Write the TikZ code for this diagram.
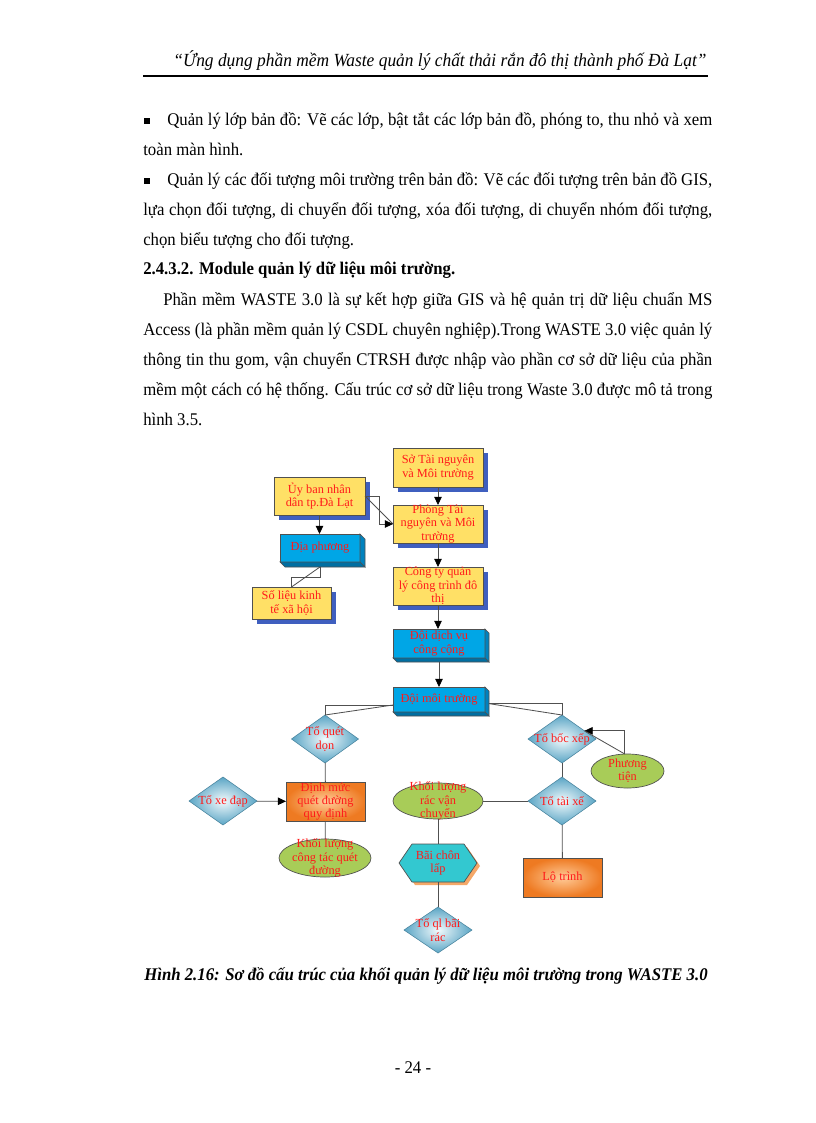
\documentclass[tikz,border=0pt]{standalone}
\usepackage{fontspec}
\setmainfont{Liberation Serif}
\newfontfamily\bodyfont[FakeStretch=0.94]{Liberation Serif}
\usetikzlibrary{shapes.geometric,shadows,arrows.meta,calc}
\definecolor{boxyellow}{HTML}{FFE066}
\definecolor{shadowblue}{HTML}{3F5FBF}
\definecolor{cubefront}{HTML}{00A6E6}
\definecolor{cubeside}{HTML}{0082BE}
\definecolor{lineg}{HTML}{505050}
\definecolor{dred}{HTML}{FF1A1A}
\definecolor{dmouter}{HTML}{5AA5C5}
\definecolor{dminner}{HTML}{F2FAFC}
\definecolor{egreen}{HTML}{A8CC58}
\definecolor{orouter}{HTML}{EE7A22}
\definecolor{orinner}{HTML}{FFCB98}
\definecolor{hexfill}{HTML}{33C8D0}
\definecolor{hexshadow}{HTML}{F5A868}
\tikzset{
  ln/.style={draw=lineg, line width=0.6pt},
  arr/.style={ln, -{Triangle[length=6pt,width=5.5pt,black]}},
  dtext/.style={text=dred, font=\fontsize{9}{9.7}\selectfont, align=center, inner sep=0pt},
  txt/.style={label={[dtext]center:{#1}}},
  sz/.style 2 args={minimum width=#1*0.7293pt, minimum height=#2*0.7293pt, inner sep=0pt, outer sep=0pt},
  ybox/.style={rectangle, draw=lineg, line width=0.5pt, fill=boxyellow, drop shadow={shadow xshift=3.6pt, shadow yshift=-3.3pt, fill=shadowblue, opacity=1}},
  cube/.style={rectangle, draw=lineg, line width=0.5pt, fill=cubefront},
  dmd/.style={diamond, draw=dmouter!80!black, line width=0.4pt, inner color=dminner, outer color=dmouter},
  ell/.style={ellipse, draw=lineg, line width=0.5pt, fill=egreen},
  obox/.style={rectangle, draw=lineg, line width=0.5pt, inner color=orinner, outer color=orouter},
  body/.style={anchor=base west, inner sep=0pt, font=\bodyfont\fontsize{13}{15}\selectfont}
}
\newcommand\cubefaces[2]{%
  \filldraw[fill=cubeside,draw=lineg,line width=0.5pt] (#1.north east) -- ++(#2,#2) -- ($(#1.south east)+(#2,#2)$) -- (#1.south east) -- cycle;
  \filldraw[fill=cubeside!85!black,draw=lineg,line width=0.5pt] (#1.south west) -- (#1.south east) -- ++(#2,#2) -- ($(#1.south west)+(#2,#2)$) -- cycle;}
\begin{document}
\begin{tikzpicture}[x=0.7293pt,y=-0.7293pt]
\fill[white] (0,0) rectangle (816,1123);
\useasboundingbox (0,0) rectangle (816,1123);

% header
\node[anchor=base, inner sep=0pt, font=\bodyfont\fontsize{13.5}{15}\selectfont\itshape] (hdr) at (440,66) {“Ứng dụng phần mềm Waste quản lý chất thải rắn đô thị thành phố Đà Lạt”};
\draw[line width=1.1pt] (143,76) -- (708,76);

% body text
\fill (144,118) rectangle (149.5,123.5);
\node[body] (l1) at (167,125) {\makebox[397.5pt][s]{Quản lý lớp bản đồ: Vẽ các lớp, bật tắt các lớp bản đồ, phóng to, thu nhỏ và xem}};
\node[body] (l2) at (143,155) {toàn màn hình.};
\fill (144,178) rectangle (149.5,183.5);
\node[body] (l3) at (167,185) {\makebox[397.5pt][s]{Quản lý các đối tượng môi trường trên bản  đồ: Vẽ các đối tượng trên bản đồ GIS,}};
\node[body] (l4) at (143,215) {\makebox[415pt][s]{lựa chọn đối tượng, di chuyển đối tượng, xóa đối tượng, di chuyển nhóm đối tượng,}};
\node[body] (l5) at (143,245) {chọn biểu tượng cho đối tượng.};
\node[body, font=\bodyfont\fontsize{13}{15}\selectfont\bfseries] (l6) at (143,274) {2.4.3.2. Module quản lý dữ liệu môi trường.};
\node[body] (l7) at (163,305) {\makebox[400.4pt][s]{Phần mềm WASTE 3.0 là sự kết hợp giữa GIS và hệ quản trị dữ liệu chuẩn MS}};
\node[body] (l8) at (143,335) {\makebox[415pt][s]{Access (là phần mềm quản lý CSDL chuyên nghiệp).Trong WASTE 3.0 việc quản lý}};
\node[body] (l9) at (143,365) {\makebox[415pt][s]{thông tin thu gom, vận chuyển CTRSH  được nhập vào phần cơ sở dữ liệu của phần}};
\node[body] (l10) at (143,395) {\makebox[415pt][s]{mềm một cách có hệ thống.  Cấu trúc cơ sở dữ liệu trong Waste 3.0 được mô tả trong}};
\node[body] (l11) at (143,425) {hình 3.5.};

% diagram nodes
\node[ybox, sz={90}{39}, txt={Sở Tài nguyên\\và Môi trường}] (so) at (438,467.5) {};
\node[ybox, sz={91}{38}, txt={Ủy ban nhân\\dân tp.Đà Lạt}] (uy) at (319.5,496) {};
\node[ybox, sz={90}{38}, txt={Phòng Tài\\nguyên và Môi\\trường}] (phong) at (438,524) {};
\node[cube, sz={80}{28}, txt={Địa phương}] (dp) at (320,548) {};
\node[ybox, sz={79}{32}, txt={Số liệu kinh\\tế xã hội}] (sl) at (291.5,603) {};
\node[ybox, sz={90}{38}, txt={Công ty quản\\lý công trình đô\\thị}] (cty) at (438,586) {};
\node[cube, sz={92}{29}, txt={Đội dịch vụ\\công cộng}] (dv) at (439,643.5) {};
\node[cube, sz={92}{25}, txt={Đội môi trường}] (dm) at (439,699.5) {};
\cubefaces{dp}{5}
\cubefaces{dv}{4}
\cubefaces{dm}{4}

\node[dmd, sz={67}{48}, txt={Tổ quét\\dọn}] (tqd) at (325,739) {};
\node[dmd, sz={68}{48}, txt={Tổ bốc xếp}] (tbx) at (562,739) {};
\node[dmd, sz={68}{48}, txt={Tổ tài xế}] (ttx) at (562,801) {};
\node[dmd, sz={68}{48}, txt={Tổ xe đạp}] (txd) at (223,801) {};
\node[dmd, sz={68}{46}, txt={Tổ ql bãi\\rác}] (tql) at (438,930) {};

\node[ell, sz={73}{34}, txt={Phương\\tiện}] (pt) at (627.5,771) {};
\node[ell, sz={90}{36}, txt={Khối lượng\\rác vận\\chuyển}] (klr) at (438,801) {};
\node[ell, sz={92}{38}, txt={Khối lượng\\công tác quét\\đường}] (klc) at (325,858) {};

\node[obox, sz={79}{39}, txt={Định mức\\quét đường\\quy định}] (dmq) at (325.5,801.5) {};
\node[obox, sz={79}{39}, txt={Lộ trình}] (lt) at (562.5,877.5) {};

\begin{scope}[shift={(441,866)}]
  \fill[hexshadow] (-39,0) -- (-26,-19) -- (26,-19) -- (39,0) -- (26,19) -- (-26,19) -- cycle;
\end{scope}
\begin{scope}[shift={(438,863)}]
  \filldraw[fill=hexfill, draw=lineg, line width=0.5pt] (-39,0) -- (-26,-19) -- (26,-19) -- (39,0) -- (26,19) -- (-26,19) -- cycle;
\end{scope}
\node[sz={78}{38}, txt={Bãi chôn\\lấp}] (bcl) at (438,863) {};

% connectors
\draw[arr] (so) -- (phong);
\draw[ln] (uy.east) -- (phong.west);
\draw[arr] (uy.east) -- ++(14,0) |- (phong.west);
\draw[arr] (uy.south) -- (uy.south |- dp.north);
\draw[ln] ([yshift=-3.6pt]dp.south) -- ++(0,10) -| (sl.north);
\draw[ln] ([yshift=-3.6pt]dp.south) -- (sl.north);
\draw[arr] (phong) -- (cty);
\draw[arr] (cty.south) -- (cty.south |- dv.north);
\draw[arr] ([yshift=-2.9pt]dv.south) -- (dv.south |- dm.north);
\draw[ln] ([yshift=-4pt]dm.west) -| (tqd.north);
\draw[ln] ([yshift=-4pt]dm.west) -- (tqd.north);
\draw[ln] ([xshift=2.9pt,yshift=-3pt]dm.east) -| (tbx.north);
\draw[ln] ([xshift=2.9pt,yshift=-3pt]dm.east) -- (tbx.north);
\draw[arr] ([xshift=-2pt]pt.north) |- (tbx.20);
\draw[ln] ([xshift=-2pt]pt.north) -- (tbx.20);
\draw[ln] (tbx) -- (ttx);
\draw[ln] (klr) -- (ttx);
\draw[ln] (klr) -- (bcl);
\draw[ln] (bcl) -- (tql);
\draw[ln] (ttx) -- (lt);
\draw[ln] (tqd) -- (dmq);
\draw[arr] (txd) -- (dmq);
\draw[ln] (dmq) -- (klc);

% caption and page number
\node[anchor=base, inner sep=0pt, font=\bodyfont\fontsize{13}{15}\selectfont\bfseries\itshape] (cap) at (426,980) {Hình 2.16: Sơ đồ cấu trúc của khối quản lý dữ liệu môi trường trong WASTE 3.0};
\node[anchor=base, inner sep=0pt, font=\bodyfont\fontsize{13}{15}\selectfont] (pg) at (413,1073) {- 24 -};
\end{tikzpicture}
\end{document}
